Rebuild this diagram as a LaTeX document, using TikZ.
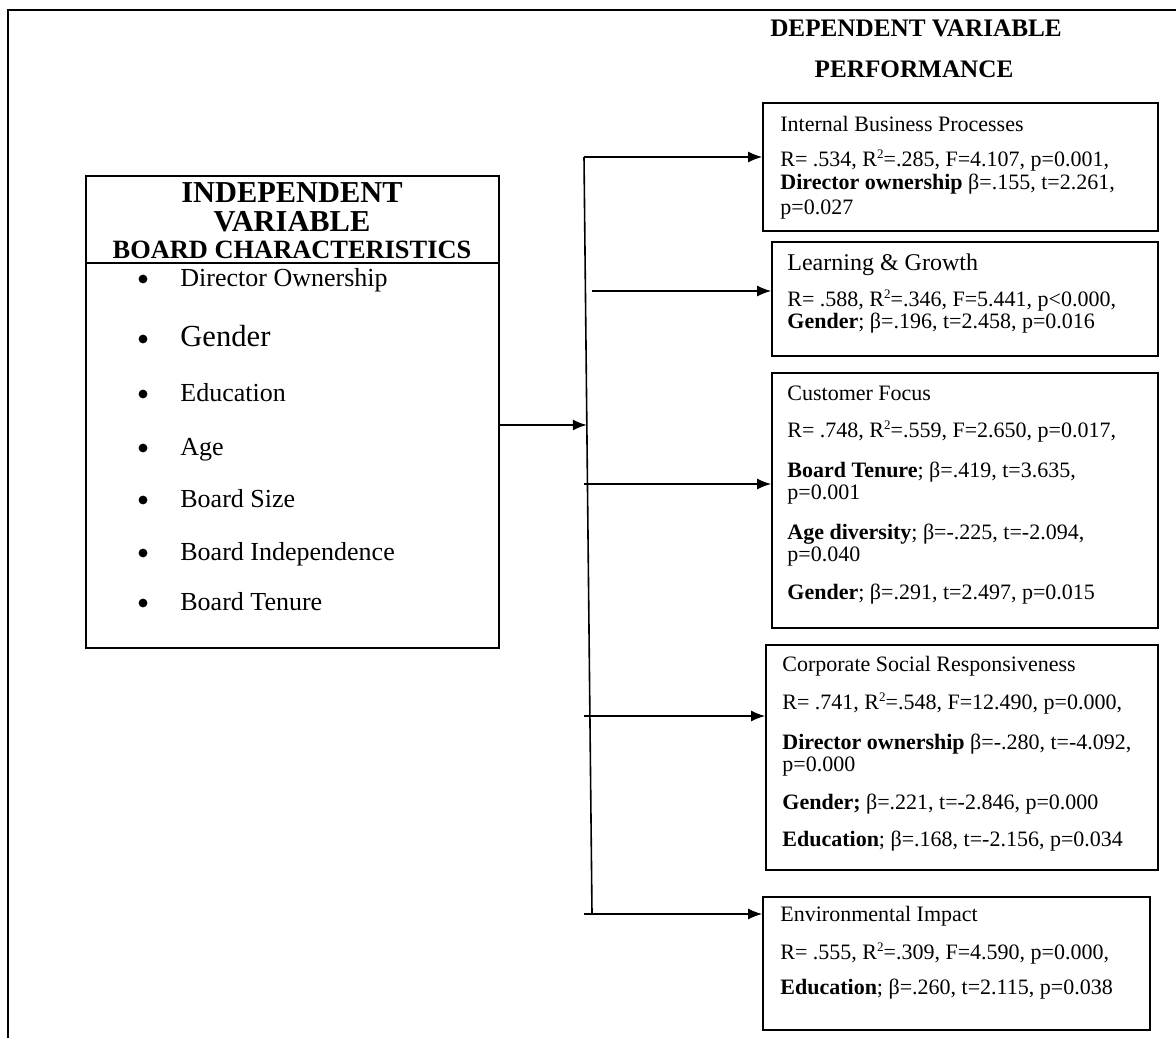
\documentclass[tikz,border=0pt]{standalone}
\usepackage{fontspec}
\setmainfont{Liberation Serif}
\usetikzlibrary{arrows.meta,calc,fit}
\newcommand{\sqr}{\raisebox{0.75ex}{\fontsize{6.5}{6.5}\selectfont 2}}
\begin{document}
\begin{tikzpicture}[x=0.5pt,y=-0.5pt,
  frame/.style={line width=1pt},
  boxline/.style={draw, line width=0.8pt, inner sep=0pt},
  conn/.style={line width=0.8pt},
  arr/.style={conn,-{Latex[length=7pt,width=5.5pt]}},
  txt/.style={anchor=base west, inner sep=0pt, font=\fontsize{11}{12}\selectfont},
  bigtxt/.style={anchor=base west, inner sep=0pt, font=\fontsize{12}{14}\selectfont},
  item/.style={anchor=base west, inner sep=0pt, font=\fontsize{13}{15}\selectfont},
  dot/.style={circle, fill, inner sep=0pt, minimum size=4.4pt},
  headA/.style={anchor=base, inner sep=0pt, font=\bfseries\fontsize{15.2}{17}\selectfont},
  headB/.style={anchor=base, inner sep=0pt, font=\bfseries\fontsize{13.2}{15}\selectfont},
  headR/.style={anchor=base, inner sep=0pt, font=\bfseries\fontsize{12.6}{15}\selectfont},
]
\useasboundingbox (0,0) rectangle (1176,1038);
% outer frame
\draw[frame] (8,1038) -- (8,10) -- (1176,10);

% independent variable box
\node[boxline, fit={(86,176) (499,648)}] (ind) {};
\draw[conn] (ind.west |- 0,263) -- (ind.east |- 0,263);
\node[headA] (h1) at (292,202) {INDEPENDENT};
\node[headA] (h2) at (292,231) {VARIABLE};
\node[headB] (h3) at (292,258) {BOARD CHARACTERISTICS};
\foreach \n/\y/\t in {1/286/Director Ownership,3/401/Education,4/455/Age,5/507/Board Size,6/560/Board Independence,7/610/Board Tenure}{
  \node[dot] (d\n) at (143,\y-7) {};
  \node[item] (i\n) at (180,\y) {\t};
}
\node[dot] (d2) at (143,339) {};
\node[item, font=\fontsize{15.3}{17}\selectfont] (i2) at (180,346) {Gender};

% dependent headings
\node[headR] (dv) at (916,37) {DEPENDENT VARIABLE};
\node[headR] (pf) at (914,78) {PERFORMANCE};

% outcome boxes
\node[boxline, fit={(763,103) (1158,231)}] (b1) {};
\node[boxline, fit={(772,242) (1158,356)}] (b2) {};
\node[boxline, fit={(772,373) (1158,628)}] (b3) {};
\node[boxline, fit={(766,645) (1158,870)}] (b4) {};
\node[boxline, fit={(763,897) (1150,1030)}] (b5) {};

% box 1
\node[txt] (t11) at (780,131) {Internal Business Processes};
\node[txt] (t12) at (780,166) {R= .534, R\sqr=.285, F=4.107, p=0.001,};
\node[txt] (t13) at (780,189) {\textbf{Director ownership} β=.155, t=2.261,};
\node[txt] (t14) at (780,214) {p=0.027};
% box 2
\node[bigtxt] (t21) at (787,270) {Learning \& Growth};
\node[txt] (t22) at (787,306) {R= .588, R\sqr=.346, F=5.441, p<0.000,};
\node[txt] (t23) at (787,328) {\textbf{Gender}; β=.196, t=2.458, p=0.016};
% box 3
\node[txt] (t31) at (787,400) {Customer Focus};
\node[txt] (t32) at (787,437) {R= .748, R\sqr=.559, F=2.650, p=0.017,};
\node[txt] (t33) at (787,477) {\textbf{Board Tenure}; β=.419, t=3.635,};
\node[txt] (t34) at (787,499) {p=0.001};
\node[txt] (t35) at (787,539) {\textbf{Age diversity}; β=-.225, t=-2.094,};
\node[txt] (t36) at (787,561) {p=0.040};
\node[txt] (t37) at (787,599) {\textbf{Gender}; β=.291, t=2.497, p=0.015};
% box 4
\node[txt] (t41) at (782,671) {Corporate Social Responsiveness};
\node[txt] (t42) at (782,709) {R= .741, R\sqr=.548, F=12.490, p=0.000,};
\node[txt] (t43) at (782,749) {\textbf{Director ownership} β=-.280, t=-4.092,};
\node[txt] (t44) at (782,771) {p=0.000};
\node[txt] (t45) at (782,809) {\textbf{Gender;} β=.221, t=-2.846, p=0.000};
\node[txt] (t46) at (782,846) {\textbf{Education}; β=.168, t=-2.156, p=0.034};
% box 5
\node[txt] (t51) at (780,921) {Environmental Impact};
\node[txt] (t52) at (780,959) {R= .555, R\sqr=.309, F=4.590, p=0.000,};
\node[txt] (t53) at (780,994) {\textbf{Education}; β=.260, t=2.115, p=0.038};

% connectors
\coordinate (vt) at (584,157);
\coordinate (vb) at (592,914);
\draw[conn] (vt) -- (vb);
\coordinate (la) at (ind.east |- 0,425);
\draw[arr] (la) -- ($(vt)!0.354!(vb)$);
\draw[arr] (vt) -- (vt -| b1.west);
\coordinate (a2) at (592,291);
\draw[arr] (a2) -- (a2 -| b2.west);
\coordinate (a3) at (584,484);
\draw[arr] (a3) -- (a3 -| b3.west);
\coordinate (a4) at (584,716);
\draw[arr] (a4) -- (a4 -| b4.west);
\coordinate (a5) at (584,914);
\draw[arr] (a5) -- (a5 -| b5.west);
\end{tikzpicture}
\end{document}
